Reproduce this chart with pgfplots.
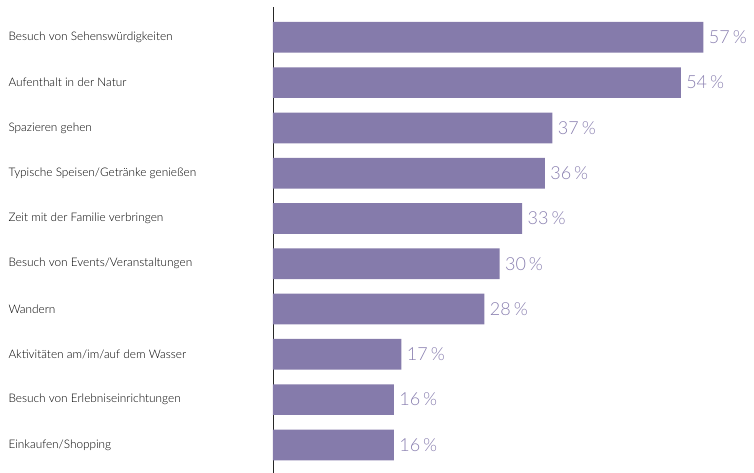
\documentclass[border=0pt]{standalone}
\usepackage{pgfplots}
\pgfplotsset{compat=1.18}
\usepackage{fontspec}
\setmainfont{Lato}[UprightFont=* Light]
\definecolor{barc}{RGB}{133,123,171}
\definecolor{labc}{RGB}{138,128,176}
\begin{document}
\begin{tikzpicture}
\begin{axis}[
  name=ax,
  scale only axis,
  width=481pt, height=466pt,
  xmin=0, xmax=63.7,
  ymin=-0.62, ymax=9.67,
  xbar, bar width=30.7pt,
  axis x line=none,
  axis y line*=left,
  y axis line style={black!85, line width=0.8pt},
  major tick length=0pt,
  ytick={0,...,9},
  yticklabels={Einkaufen/Shopping, Besuch von Erlebniseinrichtungen, Aktivitäten am/im/auf dem Wasser, Wandern, Besuch von Events/Veranstaltungen, Zeit mit der Familie verbringen, Typische Speisen/Getränke genießen, Spazieren gehen, Aufenthalt in der Natur, Besuch von Sehenswürdigkeiten},
  yticklabel style={anchor=west, xshift=-268pt, font=\fontsize{11.8}{14}\selectfont, text=black},
  /pgf/number format/assume math mode=true,
  nodes near coords={\pgfmathprintnumber\pgfplotspointmeta\,\%},
  point meta=explicit,
  nodes near coords style={anchor=west, xshift=2pt, text=labc, font=\fontsize{18}{20}\selectfont},
]
\addplot[fill=barc, draw=none] coordinates {
(16,0) [16]
(16,1) [16]
(17,2) [17]
(28,3) [28]
(30,4) [30]
(33,5) [33]
(36,6) [36]
(37,7) [37]
(54,8) [54]
(57,9) [57]
};
\end{axis}
\pgfresetboundingbox
\path[use as bounding box] ([xshift=-273pt]ax.south west) rectangle ([yshift=7pt]ax.north east);
\end{tikzpicture}
\end{document}
